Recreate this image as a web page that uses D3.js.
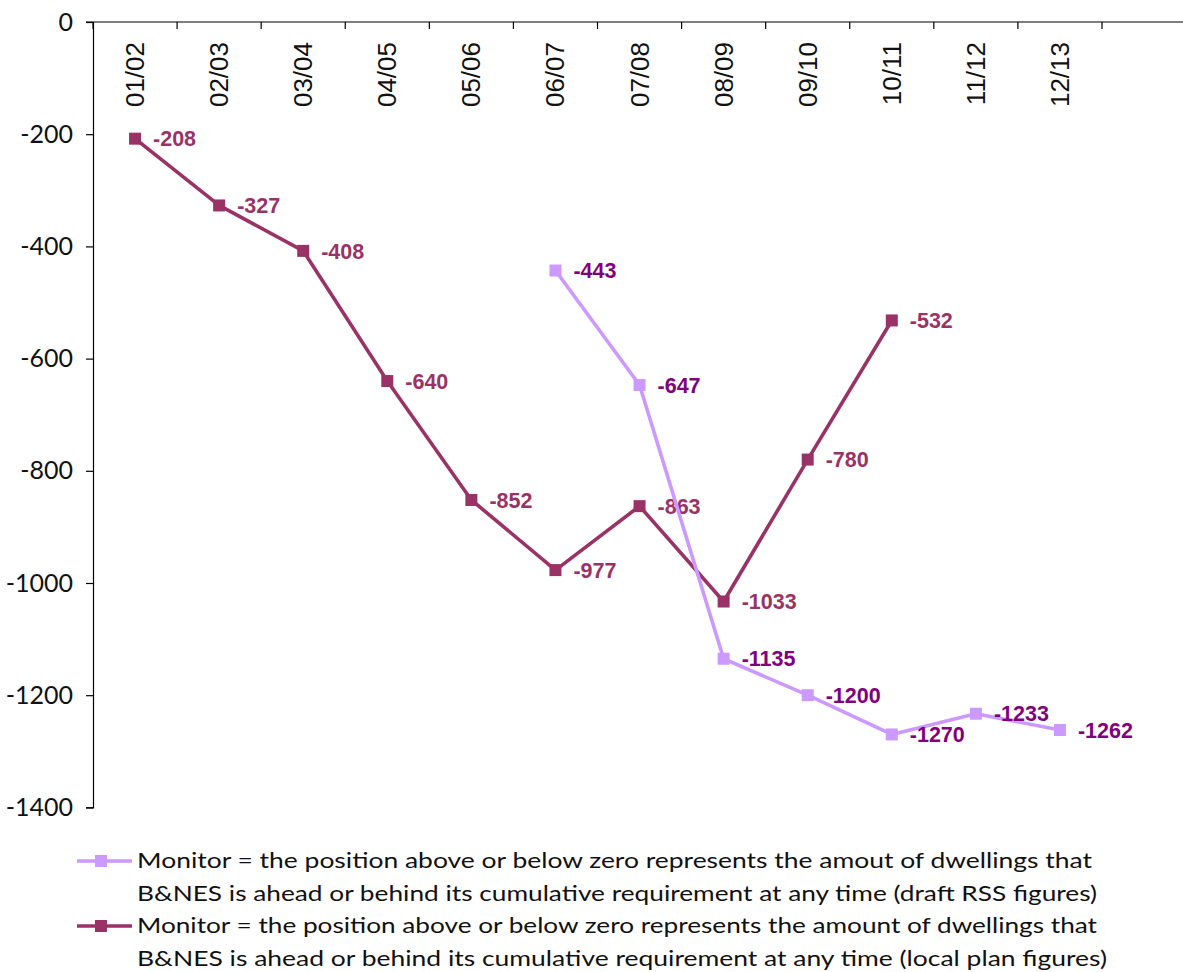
<!DOCTYPE html>
<html>
<head>
<meta charset="utf-8">
<script src="https://cdn.jsdelivr.net/npm/d3@7/dist/d3.min.js"></script>
<style>
  html, body { margin: 0; padding: 0; background: #fff; }
  svg { display: block; }
</style>
</head>
<body>
<svg id="chart" width="1183" height="972"></svg>
<script>
// Financial years on the category axis
const years = ["01/02", "02/03", "03/04", "04/05", "05/06", "06/07",
               "07/08", "08/09", "09/10", "10/11", "11/12", "12/13"];

// Cumulative position against requirement (draft RSS figures)
const rssValues = [null, null, null, null, null, -443,
                   -647, -1135, -1200, -1270, -1233, -1262];

// Cumulative position against requirement (local plan figures)
const localValues = [-208, -327, -408, -640, -852, -977,
                     -863, -1033, -780, -532, null, null];

// Value axis ticks
const yTicks = [0, -200, -400, -600, -800, -1000, -1200, -1400];

// Legend wording, two lines per series
const rssLegend = [
  "Monitor = the position above or below zero represents the amout of dwellings that",
  "B&NES is ahead or behind its cumulative requirement at any time (draft RSS figures)"
];
const localLegend = [
  "Monitor = the position above or below zero represents the amount of dwellings that",
  "B&NES is ahead or behind its cumulative requirement at any time (local plan figures)"
];

const svg = d3.select("#chart");
const plotLeft = 93, plotRight = 1102, plotTop = 22, plotBottom = 807.4;

const x = d3.scaleBand().domain(years).range([plotLeft, plotRight]).paddingInner(0).paddingOuter(0);
const y = d3.scaleLinear().domain([0, -1400]).range([plotTop, plotBottom]);
const cx = d => x(d) + x.bandwidth() / 2;

const axisFont = "'Liberation Sans', Arial, sans-serif";
const bodyFont = "Lato, 'DejaVu Sans', sans-serif";

// Value axis (left)
const yAxis = d3.axisLeft(y).tickValues(yTicks).tickSize(7).tickPadding(13)
  .tickFormat(d => String(d));
const gy = svg.append("g").attr("transform", `translate(${plotLeft},0)`).call(yAxis);
gy.select(".domain").attr("stroke", "#000").attr("stroke-width", 1.2);
gy.selectAll(".tick line").attr("stroke", "#000").attr("stroke-width", 1.2);
gy.selectAll(".tick text")
  .attr("font-family", bodyFont)
  .attr("font-size", 25)
  .attr("fill", "#111");

// Category axis along the zero line, ticks between categories
const gx = svg.append("g");
gx.append("line")
  .attr("x1", plotLeft - 7).attr("x2", 1183)
  .attr("y1", y(0)).attr("y2", y(0))
  .attr("stroke", "#000").attr("stroke-width", 1.2);
const boundaries = years.map(d => x(d)).concat([x.range()[1]]);
gx.selectAll("line.tick").data(boundaries).join("line")
  .attr("class", "tick")
  .attr("x1", d => d).attr("x2", d => d)
  .attr("y1", y(0)).attr("y2", y(0) + 7)
  .attr("stroke", "#000").attr("stroke-width", 1.2);
gx.selectAll("text").data(years).join("text")
  .attr("transform", d => `translate(${cx(d) + 9},42) rotate(-90)`)
  .attr("text-anchor", "end")
  .attr("font-family", axisFont)
  .attr("font-size", 26)
  .attr("fill", "#111")
  .text(d => d);

// Series drawing
function drawSeries(values, lineColor, labelColor) {
  const pts = years.map((c, i) => ({ c, v: values[i] })).filter(p => p.v !== null);
  const line = d3.line().x(p => cx(p.c)).y(p => y(p.v));
  const g = svg.append("g");
  g.append("path")
    .attr("d", line(pts))
    .attr("fill", "none")
    .attr("stroke", lineColor)
    .attr("stroke-width", 3.6)
    .attr("stroke-linejoin", "round");
  g.selectAll("rect").data(pts).join("rect")
    .attr("x", p => cx(p.c) - 6)
    .attr("y", p => y(p.v) - 6)
    .attr("width", 12).attr("height", 12)
    .attr("fill", lineColor);
  g.selectAll("text").data(pts).join("text")
    .attr("x", p => cx(p.c) + 18)
    .attr("y", p => y(p.v))
    .attr("dy", "0.36em")
    .attr("font-family", axisFont)
    .attr("font-weight", "bold")
    .attr("font-size", 21.5)
    .attr("fill", labelColor)
    .text(p => String(p.v));
}

drawSeries(localValues, "#993366", "#993366");
drawSeries(rssValues, "#CC99FF", "#800080");

// Legend
function legendEntry(lines, color, cy, baselines, widths) {
  const g = svg.append("g");
  g.append("line").attr("x1", 77).attr("x2", 132).attr("y1", cy).attr("y2", cy)
    .attr("stroke", color).attr("stroke-width", 3.6);
  g.append("rect").attr("x", 101 - 6).attr("y", cy - 6)
    .attr("width", 12).attr("height", 12).attr("fill", color);
  lines.forEach((t, i) => {
    g.append("text")
      .attr("x", 137).attr("y", baselines[i])
      .attr("font-family", bodyFont)
      .attr("font-size", 22)
      .attr("fill", "#111")
      .attr("textLength", widths[i])
      .attr("lengthAdjust", "spacingAndGlyphs")
      .text(t);
  });
}
legendEntry(rssLegend, "#CC99FF", 861, [868, 900.5], [955, 960]);
legendEntry(localLegend, "#993366", 926, [933, 965.5], [960, 970]);
</script>
</body>
</html>
